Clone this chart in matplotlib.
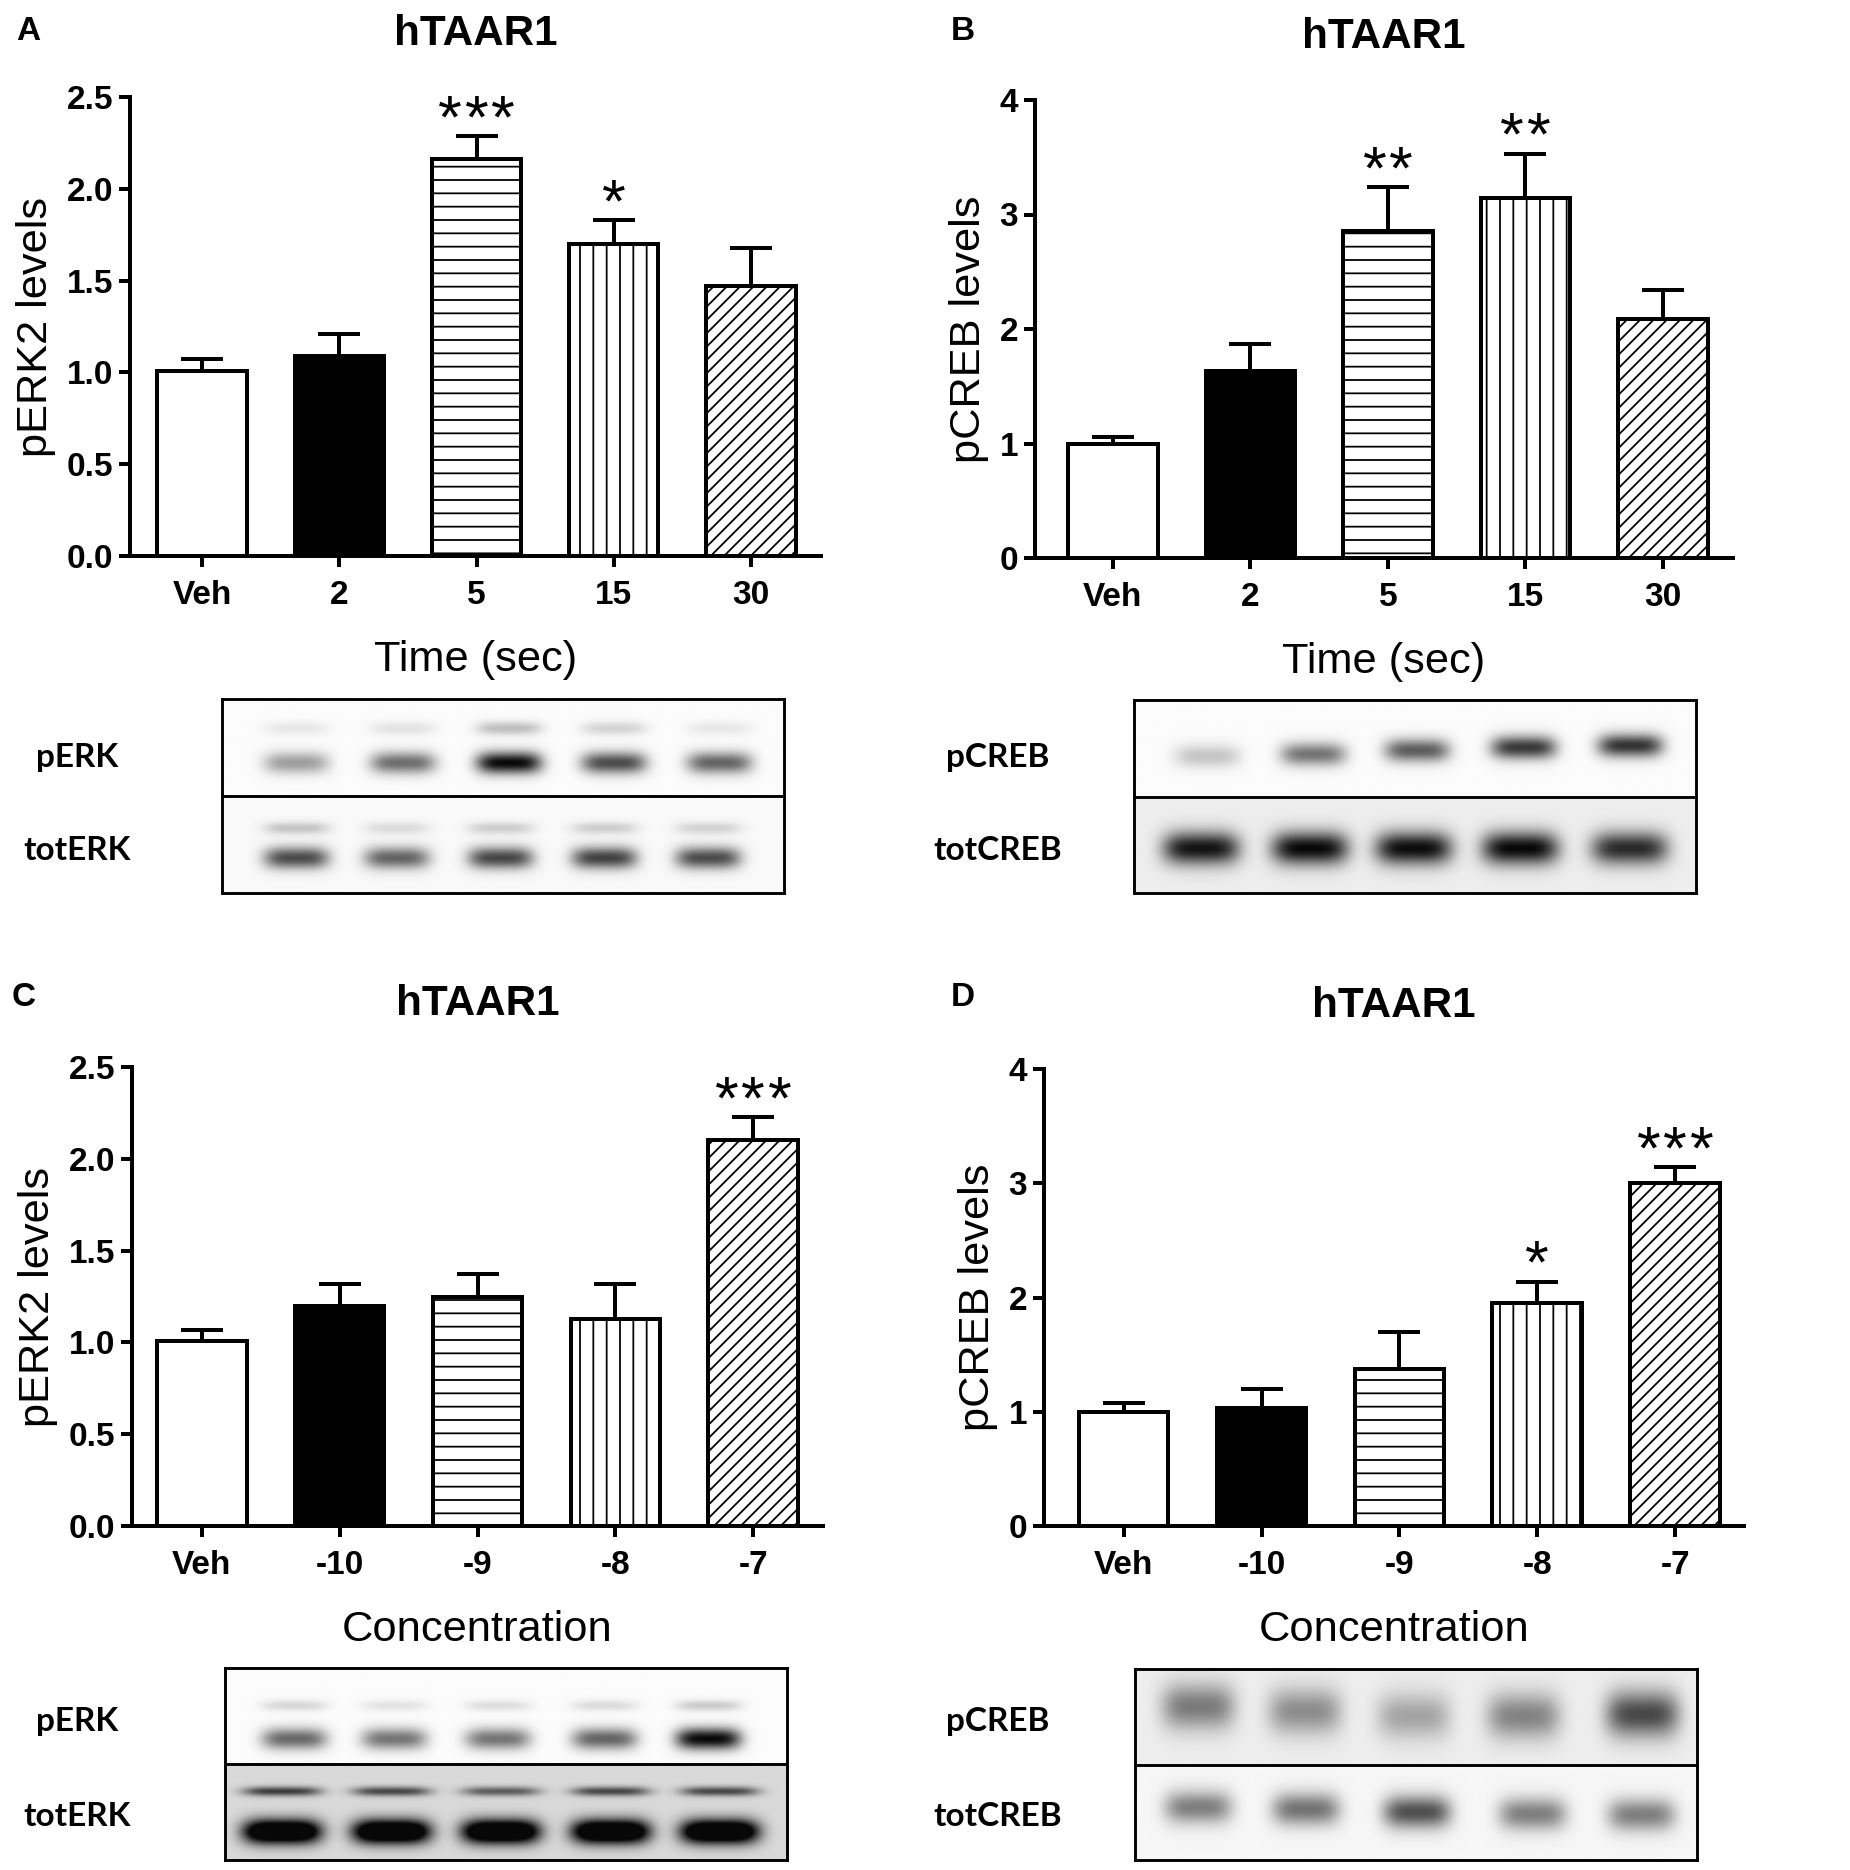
import numpy as np
import matplotlib
matplotlib.use("Agg")
import matplotlib.pyplot as plt

W, H = 1850, 1870
DPI = 80

plt.rcParams['font.family'] = ['Liberation Sans', 'DejaVu Sans']
plt.rcParams['hatch.linewidth'] = 1.6
plt.rcParams['hatch.color'] = 'black'

# ---- bar data ----
TIME_LABELS = ['Veh', '2', '5', '15', '30']
CONC_LABELS = ['Veh', '-10', '-9', '-8', '-7']

A_MEAN = [1.01, 1.09, 2.16, 1.70, 1.47]
A_SEM = [0.065, 0.12, 0.125, 0.13, 0.21]
A_STARS = ['', '', '***', '*', '']

B_MEAN = [1.00, 1.63, 2.86, 3.14, 2.09]
B_SEM = [0.06, 0.24, 0.38, 0.39, 0.25]
B_STARS = ['', '', '**', '**', '']

C_MEAN = [1.01, 1.20, 1.25, 1.13, 2.10]
C_SEM = [0.06, 0.12, 0.12, 0.19, 0.125]
C_STARS = ['', '', '', '', '***']

D_MEAN = [1.00, 1.03, 1.37, 1.95, 3.00]
D_SEM = [0.077, 0.17, 0.33, 0.19, 0.14]
D_STARS = ['', '', '', '*', '***']

ERK_TICKS = [0.0, 0.5, 1.0, 1.5, 2.0, 2.5]
CREB_TICKS = [0, 1, 2, 3, 4]

FACES = ['white', 'black', 'white', 'white', 'white']
HATCHES = [None, None, '-', '|', '//']

# ---- blot band data (lane x, band darkness) ----
A_LANES_P = [0.132, 0.322, 0.511, 0.698, 0.886]
A_PERK_UP = [0.08, 0.10, 0.25, 0.16, 0.08]
A_PERK_LO = [0.38, 0.58, 1.00, 0.72, 0.62]
A_LANES_T = [0.132, 0.311, 0.496, 0.681, 0.866]
A_TOT_UP = [0.22, 0.12, 0.18, 0.18, 0.16]
A_TOT_LO = [0.72, 0.62, 0.74, 0.76, 0.72]

B_LANES_P = [0.130, 0.319, 0.504, 0.694, 0.884]
B_PCREB = [0.22, 0.55, 0.65, 0.80, 0.82]
B_PCREB_Y = [0.59, 0.57, 0.53, 0.50, 0.48]
B_LANES_T = [0.119, 0.313, 0.498, 0.688, 0.883]
B_TOTCREB = [0.95, 1.00, 0.98, 1.00, 0.85]

C_LANES_P = [0.123, 0.301, 0.486, 0.676, 0.861]
C_PERK_UP = [0.15, 0.10, 0.12, 0.13, 0.20]
C_PERK_LO = [0.60, 0.55, 0.55, 0.62, 1.00]
C_LANES_T = [0.101, 0.296, 0.491, 0.687, 0.881]
C_TOT_UP = [0.75, 0.70, 0.60, 0.70, 0.70]
C_TOT_LO = [1.6, 1.6, 1.6, 1.6, 1.6]

D_LANES_P = [0.112, 0.302, 0.496, 0.692, 0.904]
D_PCREB = [0.50, 0.42, 0.32, 0.46, 0.72]
D_PCREB_Y = [0.40, 0.45, 0.50, 0.50, 0.48]
D_LANES_T = [0.112, 0.304, 0.502, 0.708, 0.902]
D_TOTCREB = [0.50, 0.55, 0.70, 0.50, 0.50]
D_TOTCREB_Y = [0.45, 0.47, 0.50, 0.52, 0.53]


def rect(left, top, right, bottom):
    return [left / W, 1 - bottom / H, (right - left) / W, (bottom - top) / H]


fig = plt.figure(figsize=(W / DPI, H / DPI), dpi=DPI)


def bar_panel(box, xlim, means, sems, labels, ylim, yticks, yfmt, ylabel,
              xlabel, stars, letter, letter_xy):
    ax = fig.add_axes(rect(*box))
    x = np.arange(len(means))
    ax.errorbar(x, means, yerr=[np.zeros(len(sems)), sems], fmt='none',
                ecolor='black', elinewidth=3.6, capsize=19, capthick=3.6,
                zorder=1)
    for i in range(len(means)):
        ax.bar(x[i], means[i], width=0.65, color=FACES[i], edgecolor='black',
               linewidth=3.6, hatch=HATCHES[i], zorder=2)
    # significance stars, one glyph at a time so they sit a little apart
    for i, s in enumerate(stars):
        n = len(s)
        for j in range(n):
            ax.annotate('*', xy=(x[i], means[i] + sems[i]),
                        xytext=((j - (n - 1) / 2) * 24, -1),
                        textcoords='offset points', ha='center',
                        va='baseline', fontsize=55)
    ax.set_xlim(*xlim)
    ax.set_ylim(*ylim)
    ax.spines[['top', 'right']].set_visible(False)
    ax.spines[['left', 'bottom']].set_linewidth(3.6)
    ax.set_xticks(x, labels, fontweight='bold', fontsize=30)
    ax.set_yticks(yticks, [yfmt.format(t) for t in yticks],
                  fontweight='bold', fontsize=30)
    ax.tick_params(axis='both', width=3.6, length=10)
    ax.tick_params(axis='x', pad=12)
    ax.tick_params(axis='y', pad=5)
    ax.set_ylabel(ylabel, fontsize=39, labelpad=10)
    ax.set_xlabel(xlabel, fontsize=39, labelpad=26)
    ax.set_title('hTAAR1', fontsize=38, fontweight='bold', pad=47)
    fig.text(letter_xy[0] / W, 1 - letter_xy[1] / H, letter, fontsize=30,
             fontweight='bold', va='baseline')
    return ax


def render_strip(bg, lanes, sx, bands, nx=500, ny=90):
    xs = np.linspace(0, 1, nx)
    ys = np.linspace(0, 1, ny)
    X, Y = np.meshgrid(xs, ys)
    dark = np.zeros_like(X)
    for ypos, sy, levels in bands:
        if np.isscalar(ypos):
            ypos = [ypos] * len(lanes)
        for xc, yc, lv in zip(lanes, ypos, levels):
            dark += lv * np.exp(-((X - xc) / sx) ** 4) * \
                np.exp(-0.5 * ((Y - yc) / sy) ** 2)
    return bg - (bg - 0.03) * np.clip(dark, 0, 1)


def blot_panel(box, strips, names, label_x, label_ys):
    ax = fig.add_axes(rect(*box))
    for k, (bg, lanes, sx, bands) in enumerate(strips):
        img = render_strip(bg, lanes, sx, bands)
        ax.imshow(img, cmap='gray', vmin=0, vmax=1, aspect='auto',
                  extent=(0, 1, 1 - k, 2 - k), origin='upper',
                  interpolation='bilinear')
    ax.set_xlim(0, 1)
    ax.set_ylim(0, 2)
    ax.axhline(1, color='black', lw=2.6)
    for sp in ax.spines.values():
        sp.set_linewidth(2.6)
    ax.set_xticks([])
    ax.set_yticks([])
    for name, yy in zip(names, label_ys):
        fig.text(label_x / W, 1 - yy / H, name, family=['Lato', 'DejaVu Sans'],
                 fontsize=30, fontweight='bold', ha='center', va='center')


# ---- panel A ----
bar_panel((130, 97, 821, 556), (-0.525, 4.51), A_MEAN, A_SEM, TIME_LABELS,
          (0, 2.5), ERK_TICKS, '{:.1f}', 'pERK2 levels', 'Time (sec)',
          A_STARS, 'A', (16, 40))
blot_panel((222, 699, 784, 893),
           [(0.985, A_LANES_P, 0.058,
             [(0.30, 0.05, A_PERK_UP), (0.66, 0.08, A_PERK_LO)]),
            (0.975, A_LANES_T, 0.058,
             [(0.33, 0.045, A_TOT_UP), (0.64, 0.08, A_TOT_LO)])],
           ['pERK', 'totERK'], 77, (757, 850))

# ---- panel B ----
bar_panel((1035, 100, 1733, 558), (-0.567, 4.51), B_MEAN, B_SEM, TIME_LABELS,
          (0, 4), CREB_TICKS, '{:d}', 'pCREB levels', 'Time (sec)',
          B_STARS, 'B', (951, 40))
blot_panel((1134, 700, 1696, 893),
           [(0.985, B_LANES_P, 0.058, [(B_PCREB_Y, 0.085, B_PCREB)]),
            (0.93, B_LANES_T, 0.068, [(0.54, 0.12, B_TOTCREB)])],
           ['pCREB', 'totCREB'], 998, (757, 850))

# ---- panel C ----
bar_panel((132, 1067, 823, 1526), (-0.507, 4.507), C_MEAN, C_SEM, CONC_LABELS,
          (0, 2.5), ERK_TICKS, '{:.1f}', 'pERK2 levels', 'Concentration',
          C_STARS, 'C', (12, 1006))
blot_panel((225, 1668, 787, 1860),
           [(0.985, C_LANES_P, 0.058,
             [(0.39, 0.04, C_PERK_UP), (0.74, 0.08, C_PERK_LO)]),
            (0.85, C_LANES_T, 0.07,
             [(0.29, 0.035, C_TOT_UP), (0.71, 0.09, C_TOT_LO)])],
           ['pERK', 'totERK'], 77, (1722, 1816))

# ---- panel D ----
bar_panel((1044, 1069, 1744, 1526), (-0.578, 4.5), D_MEAN, D_SEM, CONC_LABELS,
          (0, 4), CREB_TICKS, '{:d}', 'pCREB levels', 'Concentration',
          D_STARS, 'D', (951, 1006))
blot_panel((1135, 1669, 1697, 1860),
           [(0.93, D_LANES_P, 0.065, [(D_PCREB_Y, 0.17, D_PCREB)]),
            (0.965, D_LANES_T, 0.06, [(D_TOTCREB_Y, 0.12, D_TOTCREB)])],
           ['pCREB', 'totCREB'], 998, (1722, 1816))

fig.savefig('out.png', dpi=DPI)
